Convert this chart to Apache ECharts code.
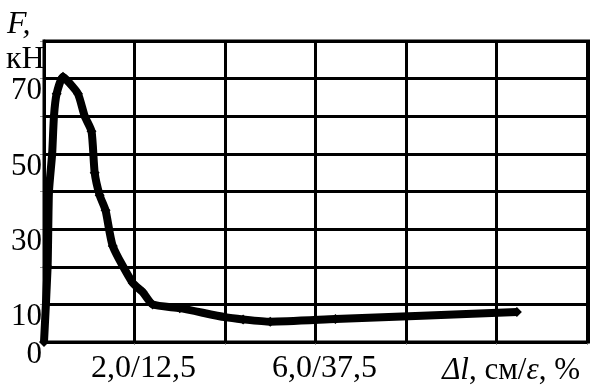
<!DOCTYPE html>
<html><head><meta charset="utf-8">
<script src="https://cdn.jsdelivr.net/npm/echarts@6/dist/echarts.min.js"></script>
<style>html,body{margin:0;padding:0;background:#fff}#c{width:590px;height:389px}</style>
</head><body><div id="c"></div>
<script>
// Elongation Δl (cm) and force F (kN)
var elongation = [0, 0.08, 0.11, 0.18, 0.22, 0.28, 0.42, 0.55, 0.75, 0.9, 1.05, 1.12, 1.23, 1.36, 1.52, 1.96, 2.18, 2.4, 3.0, 4.0, 4.4, 5.0, 6.44, 10.45];
var force      = [0, 20,   40,   50,   60,   66,   70.5, 69,   66,   60,  56,   45,   39,   35,   25.5, 15.7, 13.3, 10,  9.0, 6.6, 6.0, 5.4, 6.1,  8.0];
var xTickLabels = {2: '2,0/12,5', 6: '6,0/37,5'};
var yTickLabels = {0: '0', 10: '10', 30: '30', 50: '50', 70: '70'};

var pts = elongation.map(function (v, i) { return [v, force[i]]; });
var FONT = 'Liberation Serif';
var chart = echarts.init(document.getElementById('c'), null, {renderer: 'canvas'});
chart.setOption({
  animation: false,
  backgroundColor: '#fff',
  grid: {left: 44, right: 1, top: 41, bottom: 47, containLabel: false},
  xAxis: {
    type: 'value', min: 0, max: 12, interval: 2,
    axisLine: {show: true, lineStyle: {color: '#000', width: 3}},
    axisTick: {show: true, length: 3, lineStyle: {color: '#999', width: 1}},
    splitLine: {show: true, lineStyle: {color: '#000', width: 3}},
    axisLabel: {
      margin: 11, fontFamily: FONT, fontSize: 32, color: '#000', padding: [0, 0, 0, 18],
      formatter: function (v) { return xTickLabels[v] || ''; }
    }
  },
  yAxis: {
    type: 'value', min: 0, max: 80, interval: 10,
    axisLine: {show: true, lineStyle: {color: '#000', width: 3}},
    axisTick: {show: true, length: 4, lineStyle: {color: '#999', width: 1}},
    splitLine: {show: true, lineStyle: {color: '#000', width: 3}},
    axisLabel: {
      margin: 2, fontFamily: FONT, fontSize: 31, lineHeight: 25, color: '#000', verticalAlign: 'top',
      formatter: function (v) { return yTickLabels[v] || ''; }
    }
  },
  graphic: [
    {type: 'rect', shape: {x: 44, y: 41, width: 545, height: 301}, style: {fill: 'none', stroke: '#000', lineWidth: 3}, z: 5},
    {type: 'text', left: 7, top: 9, style: {text: 'F,', font: 'italic 32px ' + FONT, fill: '#000'}},
    {type: 'text', left: 6, top: 44, style: {text: 'кН', font: '32px ' + FONT, fill: '#000'}},
    {type: 'text', right: 10, top: 355, style: {
      text: '{i|Δl}{n|, см/}{i|ε}{n|, %}',
      rich: {i: {font: 'italic 31px ' + FONT, fill: '#000'}, n: {font: '31px ' + FONT, fill: '#000'}}
    }}
  ],
  series: [{
    type: 'line', data: pts, smooth: 0.2,
    symbol: 'diamond', symbolSize: 10,
    itemStyle: {color: '#000'},
    lineStyle: {color: '#000', width: 8},
    z: 10
  }]
});
</script></body></html>
